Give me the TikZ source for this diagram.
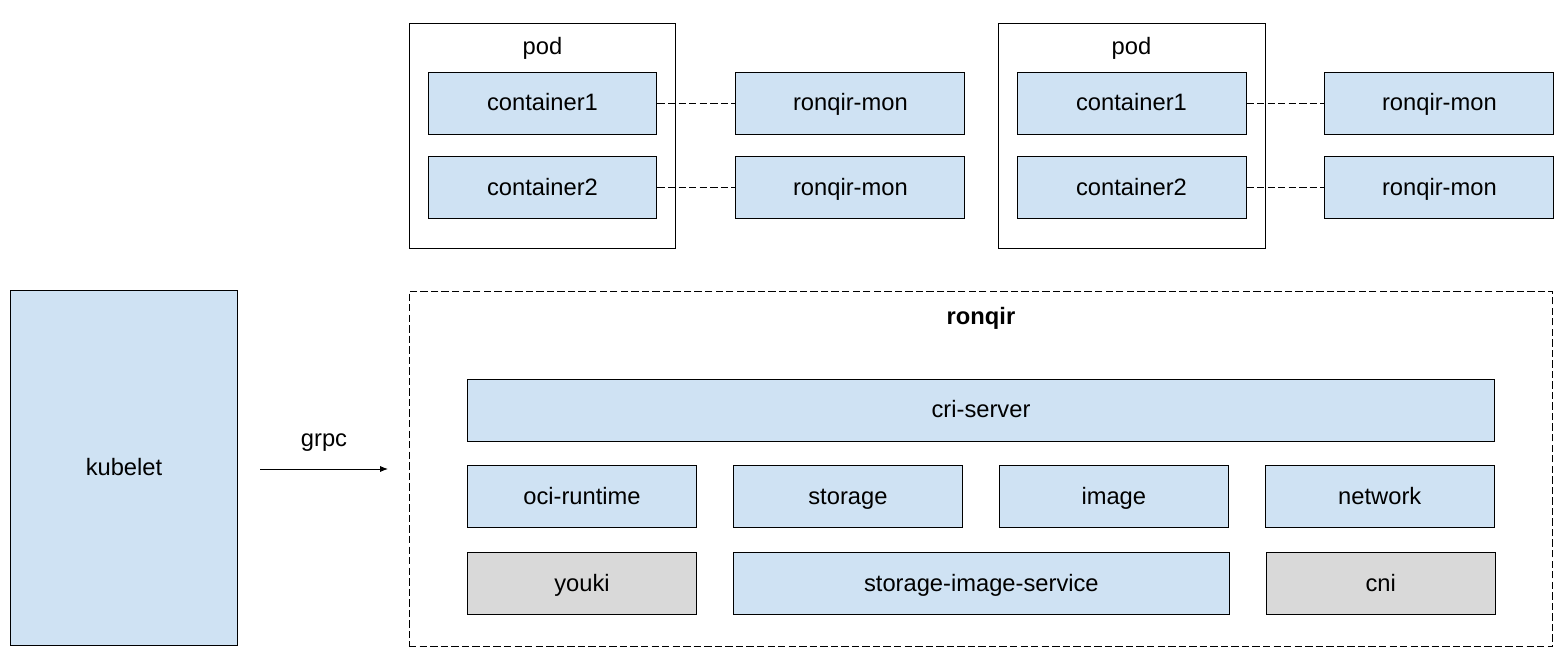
\documentclass[tikz,border=0pt]{standalone}
\usepackage{fontspec}
\setmainfont{Liberation Sans}
\usetikzlibrary{arrows.meta, positioning}
\definecolor{boxblue}{HTML}{CFE2F3}
\definecolor{boxgray}{HTML}{D9D9D9}

\begin{document}
\begin{tikzpicture}[x=0.02cm, y=-0.02cm,
    every node/.style={font=\fontsize{13.5}{16}\selectfont, text height=9.7pt, text depth=0.6pt},
    block/.style={rectangle, draw=black, fill=boxblue, line width=0.55pt, minimum width=4.58cm, minimum height=1.24cm, inner sep=0pt, text centered},
    grayblock/.style={block, fill=boxgray},
    podbox/.style={rectangle, draw=black, line width=0.55pt, minimum width=5.34cm, minimum height=4.52cm, inner sep=0pt},
    link/.style={line width=0.55pt, dash pattern=on 4.2pt off 1.8pt},
    arrow/.style={line width=0.55pt, -{Latex[length=4.5pt, width=3.5pt]}}
    ]
    \useasboundingbox (0,0) rectangle (1563,671);

    % Pods
    \node (pod1) [podbox] at (542.5,136) {};
    \node (pod1label) at (542.5,47) {pod};
    \node (c11) [block] at (542.5,103) {container1};
    \node (c12) [block, below=0.44cm of c11] {container2};
    \node (mon11) [block, right=1.56cm of c11] {ronqir-mon};
    \node (mon12) [block, right=1.56cm of c12] {ronqir-mon};

    \node (pod2) [podbox] at (1131.5,136) {};
    \node (pod2label) at (1131.5,47) {pod};
    \node (c21) [block] at (1131.5,103) {container1};
    \node (c22) [block, below=0.44cm of c21] {container2};
    \node (mon21) [block, right=1.56cm of c21] {ronqir-mon};
    \node (mon22) [block, right=1.56cm of c22] {ronqir-mon};

    % Kubelet
    \node (kubelet) [block, minimum width=4.56cm, minimum height=7.12cm] at (124,468) {kubelet};

    % Ronqir
    \node (ronqir) [rectangle, draw=black, line width=0.55pt, dash pattern=on 4.2pt off 1.8pt, minimum width=22.88cm, minimum height=7.12cm] at (981,469) {};
    \node (ronqirlabel) [font=\fontsize{13.5}{16}\selectfont\bfseries] at (981,317) {ronqir};
    \node (cri) [block, minimum width=20.56cm] at (981,410) {cri-server};
    \node (oci) [block] at (582,496.5) {oci-runtime};
    \node (storage) [block, right=0.72cm of oci] {storage};
    \node (image) [block, right=0.72cm of storage] {image};
    \node (network) [block, right=0.72cm of image] {network};
    \node (youki) [grayblock] at (582,583.5) {youki};
    \node (sis) [block, minimum width=9.92cm, right=0.72cm of youki] {storage-image-service};
    \node (cni) [grayblock, right=0.72cm of sis] {cni};

    % Links
    \draw [link] (c11) -- (mon11);
    \draw [link] (c12) -- (mon12);
    \draw [link] (c21) -- (mon21);
    \draw [link] (c22) -- (mon22);

    \coordinate (grpcstart) at (260,469);
    \coordinate (grpcend) at (388,469);
    \draw [arrow] (grpcstart) -- node[above=0.3cm] {grpc} (grpcend);

\end{tikzpicture}
\end{document}
